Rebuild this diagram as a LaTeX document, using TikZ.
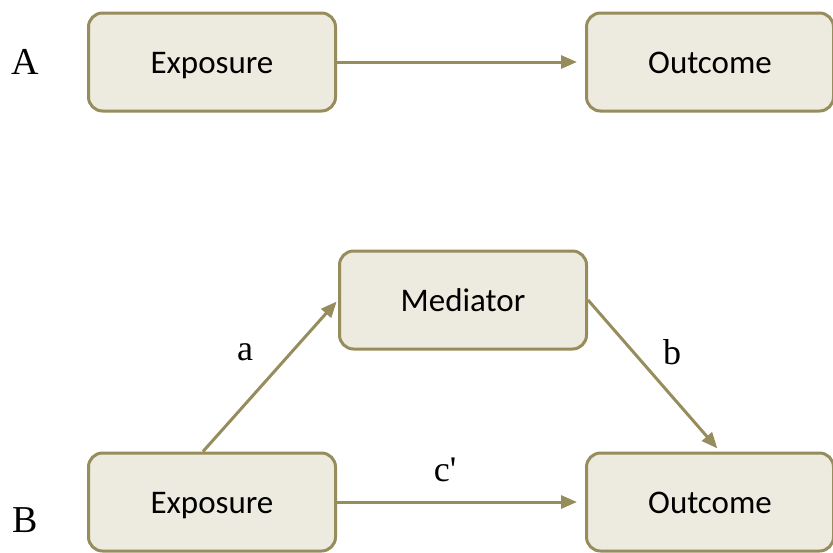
\documentclass[tikz,border=0pt]{standalone}
\usepackage{fontspec}
\setmainfont{Liberation Serif}
\newfontfamily\boxfont{Carlito}
\usepackage{xcolor}
\usepackage{tikz}
\usetikzlibrary{shapes,arrows.meta,positioning}

\definecolor{boxfill}{HTML}{EDEADF}
\definecolor{boxline}{HTML}{968C5C}

\tikzset{
    varbox/.style={
        draw=boxline,
        fill=boxfill,
        line width=1.5pt,
        rounded corners=7pt,
        minimum width=123.5pt,
        minimum height=49pt,
        text height=14pt,
        text depth=2.5pt,
        font=\boxfont\fontsize{16.5}{18}\selectfont
    },
    causal/.style={
        draw=boxline,
        line width=1.5pt,
        -{Triangle[length=8pt,width=6.5pt]}
    },
    panel/.style={
        font=\fontsize{19}{21}\selectfont
    },
    coef/.style={
        font=\fontsize{18}{20}\selectfont
    }
}

\begin{document}
\begin{tikzpicture}[x=0.5pt,y=-0.5pt]
                \useasboundingbox (0,0) rectangle (833,552);

                % panel A
                \node[panel] (labA) at (25,62) {A};
                \node[varbox] (expA) at (212,62) {Exposure};
                \node[varbox] (outA) at (710,62) {Outcome};

                \draw[causal, shorten >=4pt] (expA) -- (outA);

                % panel B
                \node[panel] (labB) at (25,520) {B};
                \node[varbox] (med) at (463,300) {Mediator};
                \node[varbox] (expB) at (212,502) {Exposure};
                \node[varbox] (outB) at (710,502) {Outcome};

                \draw[causal, shorten >=1pt] ([xshift=-4.5pt]expB.north) -- (med.west);
                \draw[causal, shorten >=2pt] (med.east) -- ([xshift=5pt]outB.north);
                \draw[causal, shorten >=4pt] (expB) -- (outB);

                \node[coef] (a) at (245,352) {a};
                \node[coef] (b) at (672,352) {b};
                \node[coef] (c) at (445,470) {c\textquotesingle};
            \end{tikzpicture}
\end{document}
